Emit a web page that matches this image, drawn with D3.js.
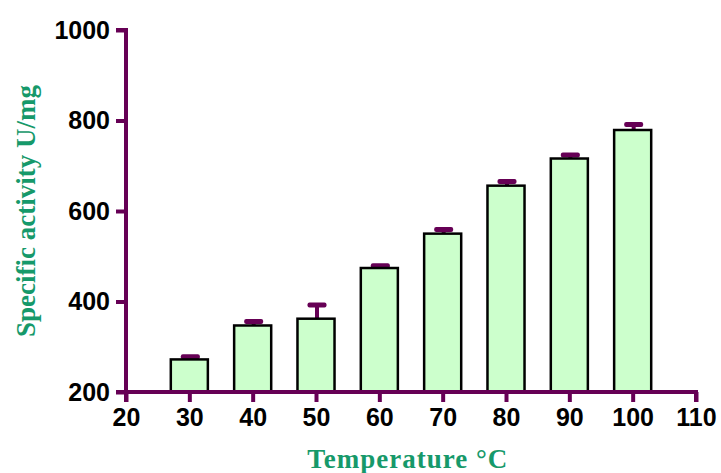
<!DOCTYPE html>
<html>
<head>
<meta charset="utf-8">
<script src="https://cdn.jsdelivr.net/npm/d3@7"></script>
<style>
  body { margin: 0; background: #fff; }
  .tick text { font-family: Arial, "Liberation Sans", sans-serif; font-weight: bold; font-size: 25px; fill: #000; }
</style>
</head>
<body>
<div id="chart"></div>
<script>
// data
const temps = [30, 40, 50, 60, 70, 80, 90, 100];
const activity = [272, 347, 362, 474, 550, 656, 716, 779];
const errors = [6, 9, 30, 5, 9, 9, 8, 12];
const xTicks = [20, 30, 40, 50, 60, 70, 80, 90, 100, 110];
const yTicks = [200, 400, 600, 800, 1000];

const W = 721, H = 473;
const margin = {top: 30, right: 25, bottom: 81, left: 126},
    width = W - margin.left - margin.right,
    height = H - margin.top - margin.bottom;

const axisColor = "#660055";
const titleColor = "#16996a";

const svg = d3.select("#chart")
    .append("svg")
    .attr("width", W)
    .attr("height", H)
    .append("g")
    .attr("transform", `translate(${margin.left}, ${margin.top})`);

const x = d3.scaleLinear().domain([20, 110]).range([0, width]);
const y = d3.scaleLinear().domain([200, 1000]).range([height, 0]);

const barW = x(25.85) - x(20);

// error bars (upper only)
const capW = 19;
svg.selectAll(".stem")
    .data(temps)
    .join("line")
    .attr("x1", d => x(d) + 1)
    .attr("x2", d => x(d) + 1)
    .attr("y1", (d, i) => y(activity[i]))
    .attr("y2", (d, i) => y(activity[i] + errors[i]))
    .attr("stroke", axisColor)
    .attr("stroke-width", 4);

svg.selectAll(".cap")
    .data(temps)
    .join("rect")
    .attr("x", d => x(d) + 1 - capW / 2)
    .attr("y", (d, i) => y(activity[i] + errors[i]) - 2.5)
    .attr("width", capW)
    .attr("height", 5)
    .attr("rx", 2)
    .attr("fill", axisColor);

// bars
svg.selectAll(".bar")
    .data(temps)
    .join("rect")
    .attr("x", d => x(d) - barW / 2)
    .attr("y", (d, i) => y(activity[i]))
    .attr("width", barW)
    .attr("height", (d, i) => y(200) - y(activity[i]))
    .style("fill", "#ccffcc")
    .style("stroke", "#000")
    .style("stroke-width", 2.5);

// axes
const xAxis = svg.append("g")
    .attr("transform", `translate(0, ${height})`)
    .call(d3.axisBottom(x).tickValues(xTicks).tickSize(10).tickPadding(6).tickFormat(d3.format("d")));
const yAxis = svg.append("g")
    .call(d3.axisLeft(y).tickValues(yTicks).tickSize(10).tickPadding(6).tickFormat(d3.format("d")));

[xAxis, yAxis].forEach(a => {
    a.select(".domain").attr("stroke", axisColor).attr("stroke-width", 4);
    a.selectAll(".tick line").attr("stroke", axisColor).attr("stroke-width", 4);
});
xAxis.select(".domain").attr("d", `M0,10V0H${width}V10`);
yAxis.select(".domain").attr("d", `M-10,${height}H0V0H-10`);

// axis titles
svg.append("text")
    .attr("x", x(64.5))
    .attr("y", height + 76)
    .attr("text-anchor", "middle")
    .style("font-family", "'Times New Roman', 'Liberation Serif', serif")
    .style("font-weight", "bold")
    .style("font-size", "27px")
    .style("letter-spacing", "1px")
    .style("fill", titleColor)
    .text("Temperature °C");

svg.append("text")
    .attr("transform", `translate(${-91}, ${y(600)}) rotate(-90)`)
    .attr("text-anchor", "middle")
    .style("font-family", "'Times New Roman', 'Liberation Serif', serif")
    .style("font-weight", "bold")
    .style("font-size", "27px")
    .style("fill", titleColor)
    .text("Specific activity U/mg");
</script>
</body>
</html>
